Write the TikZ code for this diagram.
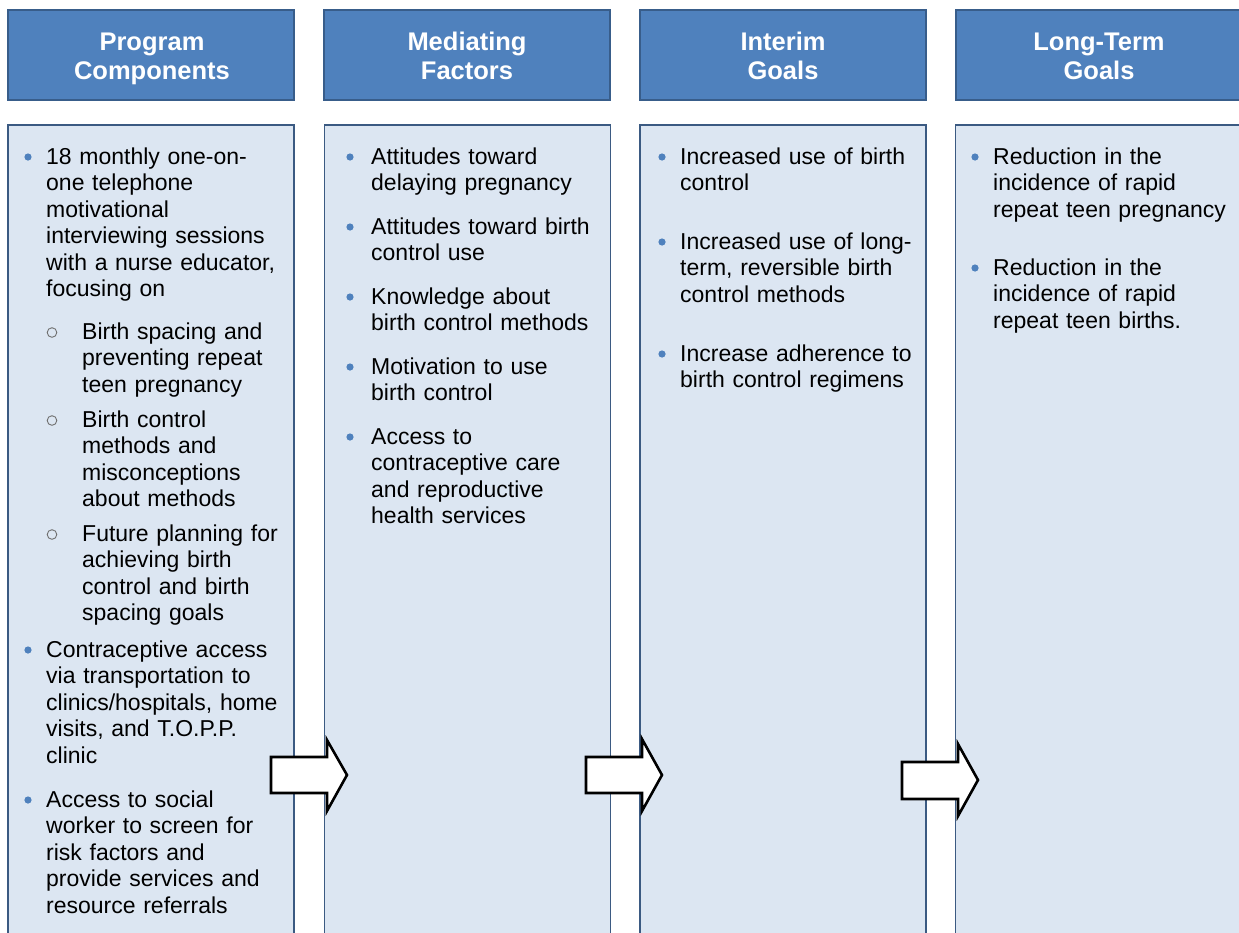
\documentclass[tikz,border=0pt]{standalone}
\usepackage{fontspec}
\setmainfont{Liberation Sans}
\definecolor{hdrblue}{HTML}{4F81BD}
\definecolor{hdrline}{HTML}{385D8A}
\definecolor{bodyfill}{HTML}{DCE6F2}
\definecolor{bodyline}{HTML}{3B5A82}
\definecolor{subgray}{HTML}{707070}
\tikzset{
 hdrbox/.style={draw=hdrline, fill=hdrblue, line width=1.3pt, minimum width=286pt, minimum height=90pt, inner sep=0pt, outer sep=0pt, anchor=north west},
 hdrtext/.style={anchor=base, text width=280pt, align=center, inner sep=0pt, text=white, font=\fontsize{25.5}{29.3}\selectfont\bfseries},
 bodybox/.style={draw=bodyline, fill=bodyfill, line width=1.1pt, minimum width=286pt, minimum height=900pt, anchor=north west, inner sep=0pt, outer sep=0pt},
 itemtext/.style={anchor=base west, text width=280pt, align=left, inner sep=0pt, font=\fontsize{23}{26.5}\selectfont},
 dot/.style={fill=hdrblue},
 ring/.style={draw=subgray, line width=0.9pt},
 blockarrow/.style={draw=black, fill=white, line width=2.6pt, line join=miter},
}
\newcommand\itm[5]{\fill[dot] ({#2},{#4-7}) circle (3.6pt); \node[itemtext] (#1) at ({#3},{#4}) {#5};}
\newcommand\subitm[3]{\draw[ring] (52,{#2-6.5}) circle (4.8pt); \node[itemtext] (#1) at (82,{#2}) {#3};}
\begin{document}
\begin{tikzpicture}[x=1pt,y=-1pt]
\useasboundingbox (0,0) rectangle (1239,932);
\begin{scope}
\clip (0,0) rectangle (1239,932);
% headers
\node[hdrbox] (h1) at (8,10) {};
\node[hdrbox] (h2) at (324,10) {};
\node[hdrbox] (h3) at (640,10) {};
\node[hdrbox, minimum width=300pt] (h4) at (956,10) {};
\node[hdrtext] (h1t) at (152,50) {Program\\Components};
\node[hdrtext] (h2t) at (467,50) {Mediating\\Factors};
\node[hdrtext] (h3t) at (783,50) {Interim\\Goals};
\node[hdrtext] (h4t) at (1099,50) {Long-Term\\Goals};
% bodies
\node[bodybox] (b1) at (8,125) {};
\node[bodybox] (b2) at (324.5,125) {};
\node[bodybox] (b3) at (640,125) {};
\node[bodybox, minimum width=300pt] (b4) at (955.5,125) {};
% column 1
\itm{c1a}{28}{46}{164}{18 monthly one-on-\\one telephone\\motivational\\interviewing sessions\\with a nurse educator,\\focusing on}
\subitm{c1s1}{339}{Birth spacing and\\preventing repeat\\teen pregnancy}
\subitm{c1s2}{427}{Birth control\\methods and\\misconceptions\\about methods}
\subitm{c1s3}{541}{Future planning for\\achieving birth\\control and birth\\spacing goals}
\itm{c1b}{28}{46}{657}{Contraceptive access\\via transportation to\\clinics/hospitals, home\\visits, and T.O.P.P.\\clinic}
\itm{c1c}{28}{46}{807}{Access to social\\worker to screen for\\risk factors and\\provide services and\\resource referrals}
% column 2
\itm{c2a}{350}{371}{164}{Attitudes toward\\delaying pregnancy}
\itm{c2b}{350}{371}{234}{Attitudes toward birth\\control use}
\itm{c2c}{350}{371}{304}{Knowledge about\\birth control methods}
\itm{c2d}{350}{371}{374}{Motivation to use\\birth control}
\itm{c2e}{350}{371}{444}{Access to\\contraceptive care\\and reproductive\\health services}
% column 3
\itm{c3a}{662}{680}{164}{Increased use of birth\\control}
\itm{c3b}{662}{680}{249}{Increased use of long-\\term, reversible birth\\control methods}
\itm{c3c}{662}{680}{361}{Increase adherence to\\birth control regimens}
% column 4
\itm{c4a}{975}{993}{164}{Reduction in the\\incidence of rapid\\repeat teen pregnancy}
\itm{c4b}{975}{993}{275}{Reduction in the\\incidence of rapid\\repeat teen births.}
% block arrows
\draw[blockarrow] (271,757) -- (327,757) -- (327,740) -- (347,775) -- (327,811) -- (327,793) -- (271,793) -- cycle;
\draw[blockarrow] (586,757) -- (642,757) -- (642,739) -- (662,775) -- (642,811) -- (642,793) -- (586,793) -- cycle;
\draw[blockarrow] (902,762) -- (958,762) -- (958,744) -- (978,780) -- (958,816) -- (958,799) -- (902,799) -- cycle;
\end{scope}
\end{tikzpicture}
\end{document}
